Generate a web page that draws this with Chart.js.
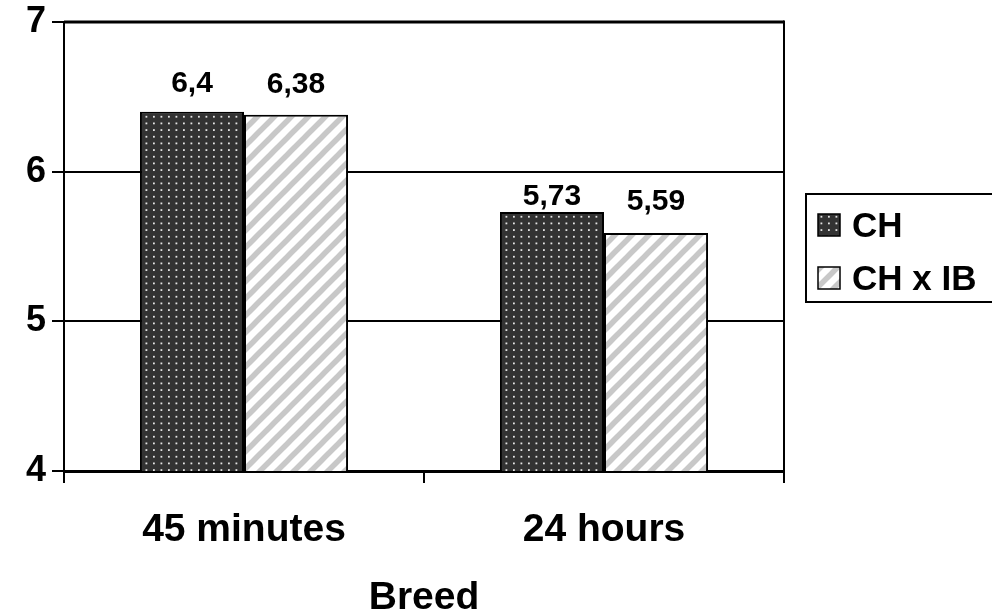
<!DOCTYPE html>
<html>
<head>
<meta charset="utf-8">
<style>
  html, body { margin: 0; padding: 0; background: #ffffff; }
  canvas { display: block; }
</style>
<script src="https://cdn.jsdelivr.net/npm/chart.js@4.4.1/dist/chart.umd.min.js"></script>
</head>
<body>
<canvas id="chart" width="992" height="612"></canvas>
<script>
// ---- data ----
const categories = ['45 minutes', '24 hours'];
const seriesNames = ['CH', 'CH x IB'];
const chValues = [6.4, 5.73];
const chIbValues = [6.38, 5.59];
const yTickValues = [4, 5, 6, 7];
const xAxisTitle = 'Breed';

const FONT = "'Liberation Sans', Arial, Helvetica, sans-serif";

// ---- fill patterns ----
function dottedPattern() {
  const c = document.createElement('canvas');
  c.width = 15; c.height = 20;
  const g = c.getContext('2d');
  g.fillStyle = '#333333';
  g.fillRect(0, 0, 15, 20);
  g.fillStyle = '#e6e6e6';
  for (let i = 0; i < 2; i++) {
    for (let j = 0; j < 3; j++) {
      g.fillRect(3 + i * 7.5, 2.5 + j * 6.67, 1.8, 1.8);
    }
  }
  return g.createPattern(c, 'repeat');
}

function stripedPattern() {
  const p = 17;
  const c = document.createElement('canvas');
  c.width = p; c.height = p;
  const g = c.getContext('2d');
  g.fillStyle = '#ffffff';
  g.fillRect(0, 0, p, p);
  g.strokeStyle = '#c8c8c8';
  g.lineWidth = 5.5;
  for (let k = -1; k <= 1; k++) {
    g.beginPath();
    g.moveTo(k * p - 2, p + 2);
    g.lineTo(k * p + p + 2, -2);
    g.stroke();
  }
  return g.createPattern(c, 'repeat');
}

const fills = [dottedPattern(), stripedPattern()];

// ---- plugins ----
// value labels above each bar, decimal comma
const valueLabels = {
  id: 'valueLabels',
  afterDatasetsDraw(chart, args, opts) {
    const ctx = chart.ctx;
    ctx.save();
    ctx.font = 'bold 30px ' + FONT;
    ctx.fillStyle = '#000';
    ctx.textAlign = 'center';
    ctx.textBaseline = 'alphabetic';
    chart.data.datasets.forEach((ds, di) => {
      chart.getDatasetMeta(di).data.forEach((bar, i) => {
        const gap = opts.gaps[di][i];
        ctx.fillText(String(ds.data[i]).replace('.', ','), bar.x, bar.y - gap);
      });
    });
    ctx.restore();
  }
};

// top and right edges of the plot frame
const plotFrame = {
  id: 'plotFrame',
  afterDraw(chart) {
    const { ctx, chartArea: a } = chart;
    ctx.save();
    ctx.strokeStyle = '#000';
    ctx.lineWidth = 3;
    ctx.beginPath();
    ctx.moveTo(a.left, a.top);
    ctx.lineTo(a.right, a.top);
    ctx.stroke();
    ctx.lineWidth = 2;
    ctx.beginPath();
    ctx.moveTo(a.right, a.top - 1.5);
    ctx.lineTo(a.right, a.bottom);
    ctx.stroke();
    ctx.restore();
  }
};

// boxed legend on the right
const boxLegend = {
  id: 'boxLegend',
  afterDraw(chart, args, opts) {
    const ctx = chart.ctx;
    ctx.save();
    ctx.strokeStyle = '#000';
    ctx.lineWidth = 2;
    ctx.strokeRect(opts.x, opts.y, opts.w, opts.h);
    ctx.font = 'bold 35px ' + FONT;
    ctx.textAlign = 'left';
    ctx.textBaseline = 'middle';
    chart.data.datasets.forEach((ds, i) => {
      const cy = opts.rowY[i];
      const s = opts.swatch;
      ctx.fillStyle = ds.backgroundColor;
      ctx.fillRect(opts.swatchX, cy - s / 2, s, s);
      ctx.lineWidth = 1.5;
      ctx.strokeRect(opts.swatchX, cy - s / 2, s, s);
      ctx.fillStyle = '#000';
      ctx.fillText(ds.label, opts.textX, cy + 2);
    });
    ctx.restore();
  }
};

// ---- chart ----
new Chart(document.getElementById('chart'), {
  type: 'bar',
  data: {
    labels: categories,
    datasets: [
      { label: seriesNames[0], data: chValues, backgroundColor: fills[0] },
      { label: seriesNames[1], data: chIbValues, backgroundColor: fills[1] }
    ]
  },
  options: {
    responsive: false,
    animation: false,
    devicePixelRatio: 1,
    layout: { padding: { top: 22, right: 208, bottom: 0, left: 0 } },
    datasets: {
      bar: {
        borderColor: '#000',
        borderWidth: 2,
        categoryPercentage: 0.578,
        barPercentage: 1
      }
    },
    plugins: {
      legend: { display: false },
      tooltip: { enabled: false },
      valueLabels: { gaps: [[20, 7], [22, 23]] },
      boxLegend: {
        x: 806, y: 194, w: 200, h: 108,
        swatchX: 818, swatch: 22, textX: 852,
        rowY: [225, 278]
      }
    },
    scales: {
      x: {
        afterFit(scale) {
          scale.height = 141;
          scale.paddingLeft = 0;
          scale.paddingRight = 0;
        },
        grid: {
          display: true,
          drawOnChartArea: false,
          drawTicks: true,
          tickLength: 12,
          color: '#000',
          lineWidth: 2,
          offset: true
        },
        border: { display: true, color: '#000', width: 3 },
        ticks: {
          color: '#000',
          padding: 24,
          font: { family: FONT, size: 39, weight: 'bold' }
        },
        title: {
          display: true,
          text: xAxisTitle,
          color: '#000',
          font: { family: FONT, size: 39, weight: 'bold', lineHeight: 0.7 },
          padding: { top: 0, bottom: 0 }
        }
      },
      y: {
        min: 4,
        max: 7,
        afterFit(scale) {
          scale.width = 64;
          scale.paddingTop = 0;
          scale.paddingBottom = 0;
        },
        afterBuildTicks(scale) {
          scale.ticks = yTickValues.map(v => ({ value: v }));
        },
        grid: {
          color: '#000',
          lineWidth: 2,
          drawTicks: true,
          tickLength: 12
        },
        border: { display: true, color: '#000', width: 2 },
        ticks: {
          color: '#000',
          padding: 6,
          font: { family: FONT, size: 36, weight: 'bold' }
        }
      }
    }
  },
  plugins: [valueLabels, plotFrame, boxLegend]
});
</script>
</body>
</html>
